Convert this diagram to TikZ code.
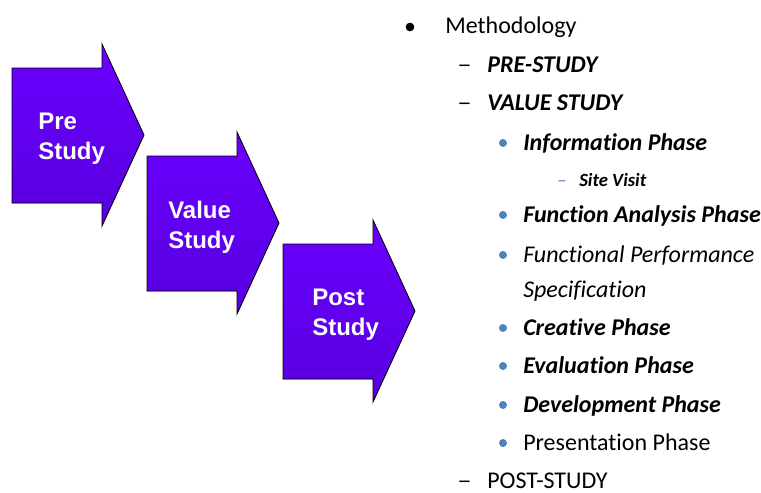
\documentclass[tikz,border=0pt]{standalone}
\usepackage{fontspec}
\setmainfont{Carlito}[Ligatures=NoCommon]
\newfontfamily\arialfont{Liberation Sans}
\definecolor{phasetop}{RGB}{106,0,255}
\definecolor{phasebot}{RGB}{88,0,222}
\definecolor{dotblue}{RGB}{79,129,189}

\tikzset{
  phase/.style={draw=black, line width=0.6pt, top color=phasetop, bottom color=phasebot},
  phaselabel/.style={anchor=west, inner sep=0pt, align=left, text=white,
    font=\arialfont\bfseries\fontsize{18}{22.5}\selectfont},
  item/.style={anchor=base west, inner sep=0pt, font=\fontsize{18}{22}\selectfont},
  small item/.style={anchor=base west, inner sep=0pt, font=\fontsize{14}{17}\selectfont},
  dash item/.style={anchor=base west, inner sep=0pt, xscale=1.2, font=\fontsize{18}{22}\selectfont},
  blackdot/.style={circle, fill=black, inner sep=0pt, minimum size=6.5},
  bluedot/.style={circle, fill=dotblue, inner sep=0pt, minimum size=6}
}

\begin{document}
\begin{tikzpicture}[x=0.75pt, y=-0.75pt]
    \useasboundingbox (0,0) rectangle (761,493);
    % phase arrows
    \filldraw[phase] (12,68) -- (102,68) -- (102,44) -- (144,135) -- (102,226) -- (102,203) -- (12,203) -- cycle;
    \filldraw[phase] (147,156) -- (237,156) -- (237,132) -- (279,223) -- (237,314) -- (237,291) -- (147,291) -- cycle;
    \filldraw[phase] (283,244) -- (373,244) -- (373,220) -- (415,311) -- (373,402) -- (373,379) -- (283,379) -- cycle;
    \node[phaselabel] (pre) at (38,139) {Pre\\Study};
    \node[phaselabel] (value) at (168,227) {Value\\Study};
    \node[phaselabel] (post) at (312,315) {Post\\Study};

    % methodology list
    \node[blackdot] (mdot) at (410,27) {};
    \node[item] (method) at (445,33) {Methodology};
    \node[dash item] (predash) at (457,72) {–};
    \node[item] (prestudy) at (487,72) {\textbf{\textit{PRE-STUDY}}};
    \node[dash item] (valdash) at (457,110) {–};
    \node[item] (valstudy) at (487,110) {\textbf{\textit{VALUE STUDY}}};
    \node[bluedot] (idot) at (503,143) {};
    \node[item] (info) at (523,150) {\textbf{\textit{Information Phase}}};
    \node[small item, text=dotblue] (sitedash) at (557,186) {–};
    \node[small item] (site) at (579,186) {\textbf{\textit{Site Visit}}};
    \node[bluedot] (fdot) at (503,215) {};
    \node[item] (func) at (523,222) {\textbf{\textit{Function Analysis Phase}}};
    \node[bluedot] (pdot) at (503,255) {};
    \node[item] (perf) at (523,262) {\textit{Functional Performance}};
    \node[item] (spec) at (523,297) {\textit{Specification}};
    \node[bluedot] (cdot) at (503,328) {};
    \node[item] (creat) at (523,335) {\textbf{\textit{Creative Phase}}};
    \node[bluedot] (edot) at (503,366) {};
    \node[item] (eval) at (523,373) {\textbf{\textit{Evaluation Phase}}};
    \node[bluedot] (ddot) at (503,405) {};
    \node[item] (devel) at (523,412) {\textbf{\textit{Development Phase}}};
    \node[bluedot] (rdot) at (503,443) {};
    \node[item] (pres) at (523,450) {Presentation Phase};
    \node[dash item] (postdash) at (457,488) {–};
    \node[item] (poststudy) at (487,488) {POST-STUDY};
\end{tikzpicture}
\end{document}
